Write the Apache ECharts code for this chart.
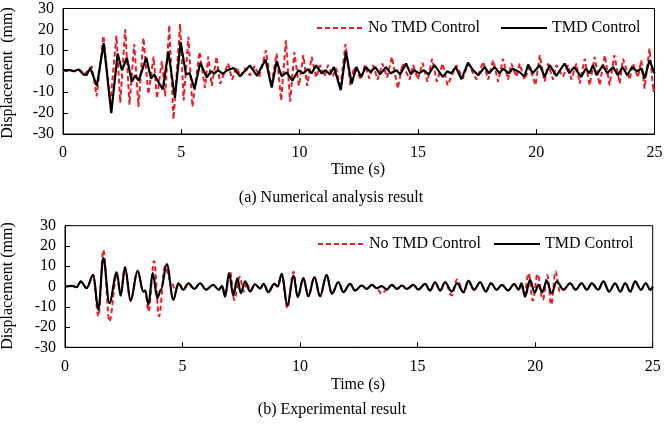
<!DOCTYPE html>
<html>
<head>
<meta charset="utf-8">
<script src="https://cdn.jsdelivr.net/npm/echarts@6/dist/echarts.min.js"></script>
<style>html,body{margin:0;padding:0;background:#fff}#c{width:669px;height:428px}</style>
</head>
<body>
<div id="c"></div>
<script>
// ---- Data (time s, displacement mm) ----
const seriesNames = ['No TMD Control', 'TMD Control'];
const xTicks = [0, 5, 10, 15, 20, 25];
const yTicks = [-30, -20, -10, 0, 10, 20, 30];

// (a) Numerical analysis result
const numNoTMD = [[0,0],[0.3,0.5],[0.5,0],[0.7,0.8],[0.9,-1.5],[1.22,2.4],[1.42,-12],[1.71,17],[2.0,-15],[2.26,17],[2.42,-15],[2.63,20],[2.81,-16],[3.01,13],[3.19,-17],[3.4,16],[3.61,-11],[3.83,7],[3.97,-13],[4.18,5],[4.32,-12],[4.49,22],[4.67,-23],[4.95,22.5],[5.1,-14],[5.3,16.5],[5.47,-17],[5.77,9.3],[6.0,-8],[6.14,7],[6.29,-7],[6.49,7],[6.64,-6],[6.98,3.8],[7.15,-4],[7.34,2],[7.5,-2.5],[7.7,1.5],[7.9,-2],[8.1,2.5],[8.3,-2.5],[8.58,10],[8.8,-7],[9.03,8.5],[9.22,-14],[9.42,14.8],[9.6,-14.5],[9.78,9.2],[9.97,-7],[10.16,7.7],[10.32,-7],[10.51,6.9],[10.7,-3],[10.87,3],[11.05,-2.5],[11.2,3],[11.4,-2.5],[11.55,1.5],[11.72,-8.5],[11.94,13],[12.15,-6.7],[12.3,2],[12.6,-4],[12.76,3],[12.95,-3.5],[13.1,3],[13.3,-4],[13.5,3.7],[13.7,-3],[13.9,6.9],[14.15,-8.3],[14.35,3.7],[14.65,-4],[14.8,3],[15.0,-4],[15.2,4],[15.4,-5],[15.6,6],[15.8,-5],[16.05,3.7],[16.25,-6.7],[16.63,2.9],[16.9,-3.5],[17.12,3.7],[17.48,-4],[17.76,4.5],[17.97,-4],[18.18,5.3],[18.39,-5],[18.6,6],[18.81,-4],[18.95,3.7],[19.16,-2.7],[19.3,3.7],[19.5,-4],[19.73,2],[19.97,-6.7],[20.15,7.7],[20.36,-5],[20.5,3.7],[20.71,-4],[20.85,3],[21.13,-2.7],[21.35,3],[21.49,-4],[21.7,3.7],[21.84,-5.9],[22.05,6],[22.26,-6.7],[22.47,6.9],[22.68,-6.7],[22.9,7.7],[23.1,-6.7],[23.3,7.7],[23.53,-5.9],[23.67,6],[23.95,-4],[24.09,3.7],[24.3,-3],[24.44,5.3],[24.58,-8.3],[24.79,10.8],[24.96,-9.9],[25,-6]];
const numTMD = [[0,0.5],[0.3,0.5],[0.45,0],[0.66,0.8],[0.87,-1.6],[1.0,-1.8],[1.15,1.6],[1.43,-7],[1.72,13.5],[2.04,-20],[2.31,8.5],[2.49,0.5],[2.7,6.5],[2.91,-5],[3.05,-2],[3.2,-4.5],[3.52,6.5],[3.72,-3.5],[3.85,-1.5],[4.0,-4.5],[4.22,-8.7],[4.45,9.5],[4.73,-12.7],[4.97,14],[5.2,-1.6],[5.35,-0.8],[5.56,-8.5],[5.8,4],[6.08,-3],[6.25,0],[6.4,-1],[6.55,0.5],[6.75,-1.2],[6.95,0.5],[7.2,1.6],[7.48,-2.4],[7.9,2.8],[8.2,-2.2],[8.56,5.6],[8.82,-7.8],[9.03,4.8],[9.24,-2.4],[9.45,-0.5],[9.7,-4.5],[9.95,0.5],[10.15,-1],[10.35,1],[10.5,-1],[10.7,2.8],[10.93,-1],[11.1,0.5],[11.28,-1.5],[11.45,2],[11.74,-9],[11.96,9.3],[12.2,-6],[12.4,2],[12.6,-2.7],[12.8,2],[13.0,-0.5],[13.2,2],[13.4,-1.5],[13.65,2],[13.85,-1],[14.1,0.5],[14.25,-1.5],[14.5,3.7],[14.7,-1.5],[14.85,0.5],[15.05,-1],[15.25,0.5],[15.45,-1.5],[15.7,2.9],[16.05,-2.7],[16.25,0],[16.4,-1],[16.6,2],[16.84,-3.8],[17.12,4.1],[17.3,1],[17.55,-1.9],[17.83,2],[18.0,-1],[18.25,2],[18.45,-1],[18.6,1.3],[18.85,-1],[19.0,1.3],[19.3,-0.5],[19.5,-2.5],[19.66,3.2],[19.85,-1],[20.15,2.9],[20.36,-2.7],[20.57,2.9],[20.85,-2.2],[21.2,3.7],[21.4,-1],[21.6,2],[21.9,-2.7],[22.1,1.3],[22.25,-1],[22.4,2.9],[22.55,-1.9],[22.82,2.9],[23.0,-1],[23.25,2],[23.45,-1.9],[23.65,2],[23.85,-1.9],[24.05,2],[24.25,0],[24.45,1.3],[24.58,-3.5],[24.79,5.3],[25,-1]];

// (b) Experimental result
const expNoTMD = [[0,0],[0.3,0.3],[0.5,-0.3],[0.67,2.5],[0.92,-0.8],[1.2,5.7],[1.42,-14.7],[1.63,18],[1.89,-17.2],[2.2,6],[2.37,-4.4],[2.55,9.5],[2.79,-7],[3.09,7.7],[3.33,-2.5],[3.41,-2],[3.55,-12.3],[3.79,12.6],[4.0,-14.7],[4.25,10],[4.5,2.5],[4.7,-1.6],[4.85,1.6],[5.03,-1.6],[5.25,1.6],[5.5,-1.2],[5.75,1.6],[6.0,-1.6],[6.3,0.8],[6.55,-1.6],[6.68,0.3],[6.81,-4],[7.02,7.4],[7.2,-6.7],[7.43,4.8],[7.6,-2.5],[7.75,2],[7.87,-2.5],[8.08,1.1],[8.3,-1],[8.45,1.3],[8.65,-2.8],[8.9,1.3],[9.05,0],[9.22,6.2],[9.46,-10.7],[9.72,7.3],[9.9,-5.2],[10.14,4.1],[10.35,-4.8],[10.61,4.6],[10.85,-4.8],[11.13,5.7],[11.35,-3.6],[11.63,2.1],[11.84,-2.8],[12.13,1.3],[12.34,-2],[12.62,0.5],[12.84,-1.2],[13.05,0.8],[13.26,-0.8],[13.47,-3.6],[13.69,-1.5],[13.9,0.8],[14.12,-1.2],[14.33,0.5],[14.54,-1.2],[14.82,0.8],[15.03,-1.5],[15.32,1.3],[15.53,-2],[15.74,2.1],[15.96,-2],[16.17,2.1],[16.45,-4.4],[16.68,3.5],[16.95,-3],[17.16,2.8],[17.4,-1.6],[17.66,2.1],[17.9,-2.5],[18.12,1.6],[18.36,-1.6],[18.58,0.8],[18.85,-2],[19.1,1.2],[19.3,-1.5],[19.4,1],[19.55,-3.5],[19.72,6.5],[19.9,-7],[20.1,6],[20.33,-6.5],[20.52,5.5],[20.68,-9],[20.87,7.4],[21.05,-2.5],[21.2,-1.6],[21.49,1.6],[21.72,-1.6],[21.98,1.6],[22.2,-1.6],[22.41,1.6],[22.68,-1.6],[22.9,2.5],[23.15,-2.5],[23.4,1.6],[23.62,-2.5],[23.83,1.6],[24.05,-2.5],[24.25,2.5],[24.5,-1.6],[24.7,1.6],[24.9,-1.6],[25,0]];
const expTMD = [[0,0],[0.3,0.3],[0.5,-0.3],[0.67,2.5],[0.92,-0.8],[1.2,5.7],[1.42,-11.5],[1.63,14],[1.89,-8.2],[2.2,7],[2.37,-4.4],[2.55,9.5],[2.79,-7],[3.09,7.7],[3.33,-2.5],[3.41,-2],[3.55,-9],[3.73,6.6],[3.93,-5.7],[4.08,-1.5],[4.33,11],[4.61,-6.6],[4.82,1.6],[5.03,-1.6],[5.25,1.6],[5.5,-1.2],[5.75,1.6],[6.0,-1.6],[6.3,0.8],[6.55,-1.6],[6.68,0.3],[6.81,-5],[6.98,6.6],[7.16,-4.5],[7.33,4],[7.48,-3.3],[7.66,2.5],[7.87,-2.5],[8.08,1.1],[8.3,-1],[8.45,1.3],[8.65,-2.8],[8.9,1.3],[9.05,0],[9.22,6.2],[9.46,-9.3],[9.72,5.4],[9.9,-5.2],[10.14,4.1],[10.35,-4.8],[10.61,4.6],[10.85,-4.8],[11.13,5.7],[11.35,-3.6],[11.63,2.1],[11.84,-2.8],[12.13,1.3],[12.34,-2],[12.62,0.5],[12.84,-1.2],[13.05,0.8],[13.26,-0.8],[13.47,0.2],[13.69,-1.5],[13.9,0.8],[14.12,-1.2],[14.33,0.5],[14.54,-1.2],[14.82,0.8],[15.03,-1.5],[15.32,1.3],[15.53,-2],[15.74,2.1],[15.96,-2],[16.17,2.1],[16.45,-2.5],[16.68,1.6],[16.95,-2.8],[17.16,2.8],[17.4,-1.6],[17.66,2.1],[17.9,-2.5],[18.12,1.6],[18.36,-1.6],[18.58,0.8],[18.85,-2],[19.1,1.2],[19.3,-1.5],[19.42,1.5],[19.57,-5],[19.78,3.3],[19.98,-3],[20.14,0.8],[20.3,-2.8],[20.49,2.8],[20.7,-3.3],[20.92,2.5],[21.2,-1.6],[21.49,1.6],[21.72,-1.6],[21.98,1.6],[22.2,-1.6],[22.41,1.6],[22.68,-1.6],[22.9,2.5],[23.15,-2.5],[23.4,1.6],[23.62,-2.5],[23.83,1.6],[24.05,-2.5],[24.25,2.5],[24.5,-1.6],[24.7,1.6],[24.9,-1.6],[25,0]];

const FONT = "'Liberation Serif','Times New Roman',serif";
const RED = '#ee1c25';

function xAxisCfg(gi) {
  return {
    gridIndex: gi, type: 'value', min: xTicks[0], max: xTicks[xTicks.length-1], interval: 5,
    axisLine: {onZero: false, lineStyle: {color: '#000', width: 1}},
    axisTick: {inside: true, length: 5, lineStyle: {color: '#000'}},
    axisLabel: {fontFamily: FONT, fontSize: 16, color: '#000', margin: 11},
    splitLine: {show: false}
  };
}
function yAxisCfg(gi) {
  return {
    gridIndex: gi, type: 'value', min: yTicks[0], max: yTicks[yTicks.length-1], interval: 10,
    axisLine: {show: true, lineStyle: {color: '#000', width: 1}},
    axisTick: {show: true, inside: true, length: 5, lineStyle: {color: '#000'}},
    axisLabel: {fontFamily: FONT, fontSize: 16, color: '#000', margin: 9},
    splitLine: {show: false}
  };
}
function lineSeries(name, data, gi, dashed, smooth) {
  return {
    name: name, type: 'line', xAxisIndex: gi, yAxisIndex: gi, data: data,
    symbol: 'none', smooth: smooth, smoothMonotone: smooth ? 'x' : undefined,
    animation: false,
    lineStyle: dashed ? {color: RED, width: 2, type: [5, 3]} : {color: '#000', width: 2.2},
    itemStyle: {color: dashed ? RED : '#000'},
    z: dashed ? 2 : 3
  };
}
function legendCfg(left, top, gap) {
  return {
    left: left, top: top, itemWidth: 46, itemHeight: 14, itemGap: gap,
    selectedMode: false,
    itemStyle: {opacity: 0},
    textStyle: {fontFamily: FONT, fontSize: 16, color: '#000'},
    data: seriesNames
  };
}
function txt(x, y, text, rot) {
  return {type: 'text', x: x, y: y, rotation: rot || 0,
    style: {text: text, font: '16px ' + FONT, fill: '#000', textAlign: 'center', textVerticalAlign: 'middle'}};
}

const chart = echarts.init(document.getElementById('c'), null, {renderer: 'canvas'});
chart.setOption({
  backgroundColor: '#fff',
  animation: false,
  grid: [
    {left: 63, top: 8.5, width: 591.5, height: 125.5, show: true, borderColor: '#000', borderWidth: 1, backgroundColor: 'transparent'},
    {left: 65, top: 225.7, width: 587.7, height: 121.6, show: true, borderColor: '#000', borderWidth: 1, backgroundColor: 'transparent'}
  ],
  xAxis: [xAxisCfg(0), xAxisCfg(1)],
  yAxis: [yAxisCfg(0), yAxisCfg(1)],
  legend: [legendCfg(311, 15, 20), legendCfg(312, 231, 12)],
  series: [
    lineSeries(seriesNames[0], numNoTMD, 0, true, false),
    lineSeries(seriesNames[1], numTMD, 0, false, false),
    lineSeries(seriesNames[0], expNoTMD, 1, true, 0.35),
    lineSeries(seriesNames[1], expTMD, 1, false, 0.35)
  ],
  graphic: [
    txt(8, 73, 'Displacement  (mm)', Math.PI / 2),
    txt(8, 286, 'Displacement (mm)', Math.PI / 2),
    txt(358, 170, 'Time (s)'),
    txt(358, 385, 'Time (s)'),
    txt(331, 198, '(a) Numerical analysis result'),
    txt(332, 410, '(b) Experimental result')
  ]
});
</script>
</body>
</html>
